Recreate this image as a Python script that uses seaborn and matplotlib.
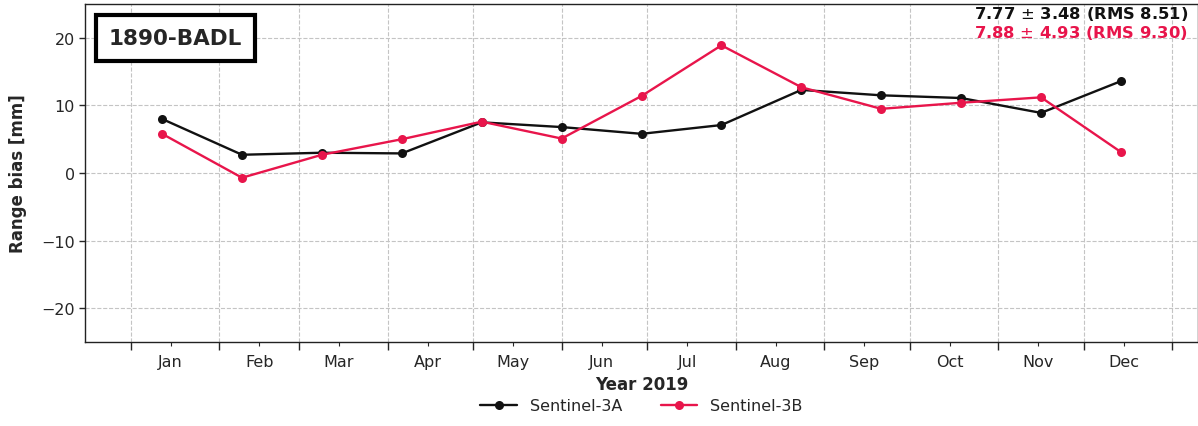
import pandas as pd
import numpy as np
import matplotlib
matplotlib.use('Agg')
import matplotlib.pyplot as plt
import matplotlib.dates as mdates
import seaborn as sns

# cycle dates (one point per 28-day cycle)
dates = ['2019-01-12', '2019-02-09', '2019-03-09', '2019-04-06', '2019-05-04',
         '2019-06-01', '2019-06-29', '2019-07-27', '2019-08-24', '2019-09-21',
         '2019-10-19', '2019-11-16', '2019-12-14']
s3a = [8.0, 2.7, 3.0, 2.9, 7.5, 6.8, 5.8, 7.1, 12.3, 11.5, 11.1, 8.9, 13.6]
s3b = [5.8, -0.7, 2.7, 5.0, 7.6, 5.1, 11.4, 18.9, 12.7, 9.5, 10.4, 11.2, 3.1]
labels = ['Sentinel-3A', 'Sentinel-3B']
stats = ['7.77 $\\pm$ 3.48 (RMS 8.51)', '7.88 $\\pm$ 4.93 (RMS 9.30)']
station = '1890-BADL'

red = '#E8154B'
colors = ['#111111', red]

df = pd.DataFrame({'date': pd.to_datetime(dates),
                   labels[0]: s3a, labels[1]: s3b})
df = df.melt(id_vars='date', var_name='mission', value_name='bias')

sns.set_style('white')
plt.rcParams['font.family'] = ['DejaVu Sans']

fig = plt.figure(figsize=(11.98, 4.27), dpi=100)
ax = fig.add_axes([0.071, 0.197, 0.929, 0.791])

sns.lineplot(data=df, x='date', y='bias', hue='mission', palette=colors,
             marker='o', markersize=6.5, markeredgewidth=0, linewidth=1.7, ax=ax)

ax.set_xlim(pd.Timestamp('2018-12-16'), pd.Timestamp('2020-01-10'))
ax.set_ylim(-25, 25)
ax.set_yticks([-20, -10, 0, 10, 20])

ax.xaxis.set_major_locator(mdates.MonthLocator())
ax.xaxis.set_major_formatter(plt.NullFormatter())
ax.xaxis.set_minor_locator(mdates.MonthLocator(bymonthday=15))
ax.xaxis.set_minor_formatter(mdates.DateFormatter('%b'))
ax.tick_params(axis='x', which='major', length=6, width=1, direction='out', bottom=True)
ax.tick_params(axis='x', which='minor', length=3, width=0.8, direction='out', bottom=True,
               labelsize=11.5, pad=6)
ax.tick_params(axis='y', length=4, width=1, direction='out', left=True, labelsize=11.5)

ax.grid(True, which='major', axis='both', color='#c4c4c4', linestyle='--', linewidth=0.8)

for side in ['left', 'bottom', 'top', 'right']:
    ax.spines[side].set_color('#222222')
    ax.spines[side].set_linewidth(1.0)

ax.set_xlabel('Year 2019', fontweight='bold', fontsize=12, labelpad=4)
ax.set_ylabel('Range bias [mm]', fontweight='bold', fontsize=12, labelpad=10)

ax.text(0.021, 0.9, station, transform=ax.transAxes, fontsize=15.5, fontweight='bold',
        va='center', ha='left',
        bbox=dict(boxstyle='square,pad=0.6', facecolor='white', edgecolor='black', linewidth=3))

ax.text(0.991, 0.999, stats[0], transform=ax.transAxes, ha='right', va='top',
        fontsize=11.8, fontweight='bold', color=colors[0])
ax.text(0.991, 0.944, stats[1], transform=ax.transAxes, ha='right', va='top',
        fontsize=11.8, fontweight='bold', color=colors[1])

ax.legend(loc='upper center', bbox_to_anchor=(0.5, -0.125), ncol=2, frameon=False,
          fontsize=11.5, handlelength=2.3, columnspacing=2.4)

fig.savefig('out.png', dpi=100)
